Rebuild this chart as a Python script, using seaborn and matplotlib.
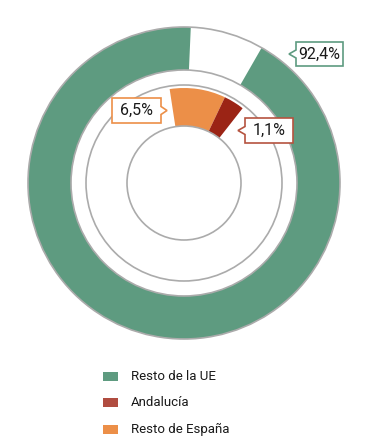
import matplotlib
matplotlib.use("Agg")
import matplotlib.pyplot as plt
import seaborn as sns
from matplotlib.patches import Circle, Polygon, Rectangle

# Datos
categorias = ["Resto de la UE", "Andalucía", "Resto de España"]
exterior = [92.4, 7.6]            # Resto de la UE / hueco
interior_pct = [6.5, 1.1]         # Resto de España / Andalucía (etiquetas)
interior_arco = [9.5, 3.5]        # tamaño de los sectores tal como se ven en el gráfico
etiquetas = ["92,4%", "6,5%", "1,1%"]

verde = "#5e9b80"
naranja = "#ec8f48"
rojo = "#9b2415"
rojo_leyenda = "#b04c40"
gris = "#ababab"

sns.set_theme(style="white")
plt.rcParams["font.family"] = ["Roboto", "DejaVu Sans"]

fig = plt.figure(figsize=(3.68, 4.41), dpi=100)
ax = fig.add_axes([0, 0, 1, 1])

# Anillo exterior
ax.pie([exterior[1], exterior[0]], radius=156, startangle=87.5, counterclock=False,
       colors=["white", verde], wedgeprops=dict(width=43, linewidth=0))
# Anillo interior
resto = 100 - sum(interior_arco)
ax.pie(interior_arco + [resto], radius=95, startangle=98.7, counterclock=False,
       colors=[naranja, rojo, "none"], wedgeprops=dict(width=38, linewidth=0))
ax.set_xlim(-184, 184)
ax.set_ylim(-258, 183)
ax.set_aspect("equal")
ax.axis("off")

for r in [156, 113, 98, 57]:
    ax.add_patch(Circle((0, 0), r, fill=False, ec=gris, lw=1.2, zorder=5))


def px(x, y):
    return x - 184, 183 - y


def callout(x0, x1, y0, y1, tip, lado, texto, color):
    ym = (y0 + y1) / 2
    if lado == "izq":
        pts = [(x0, y0), (x1, y0), (x1, y1), (x0, y1), (x0, ym + 4), (tip, ym), (x0, ym - 4)]
    else:
        pts = [(x0, y0), (x1, y0), (x1, ym - 4), (tip, ym), (x1, ym + 4), (x1, y1), (x0, y1)]
    ax.add_patch(Polygon([px(*p) for p in pts], closed=True, fc="white", ec=color, lw=1.2, zorder=6))
    cx, cy = px((x0 + x1) / 2, ym)
    ax.text(cx, cy, texto, ha="center", va="center", fontsize=11.5, color="#1a1a1a", zorder=7)


callout(296, 343, 42, 66, 289, "izq", etiquetas[0], verde)
callout(112, 161, 98, 123, 167, "der", etiquetas[1], naranja)
callout(245, 293, 118, 143, 238, "izq", etiquetas[2], "#b5533f")

# Leyenda
colores_leyenda = [verde, rojo_leyenda, naranja]
for i, (cat, col) in enumerate(zip(categorias, colores_leyenda)):
    yc = 376 + i * 26.5
    x, y = px(103, yc + 4.5)
    ax.add_patch(Rectangle((x, y), 15, 9, fc=col, ec="none"))
    tx, ty = px(131, yc)
    ax.text(tx, ty, cat, ha="left", va="center", fontsize=9.5, color="#1a1a1a")

fig.savefig("out.png", dpi=100)
